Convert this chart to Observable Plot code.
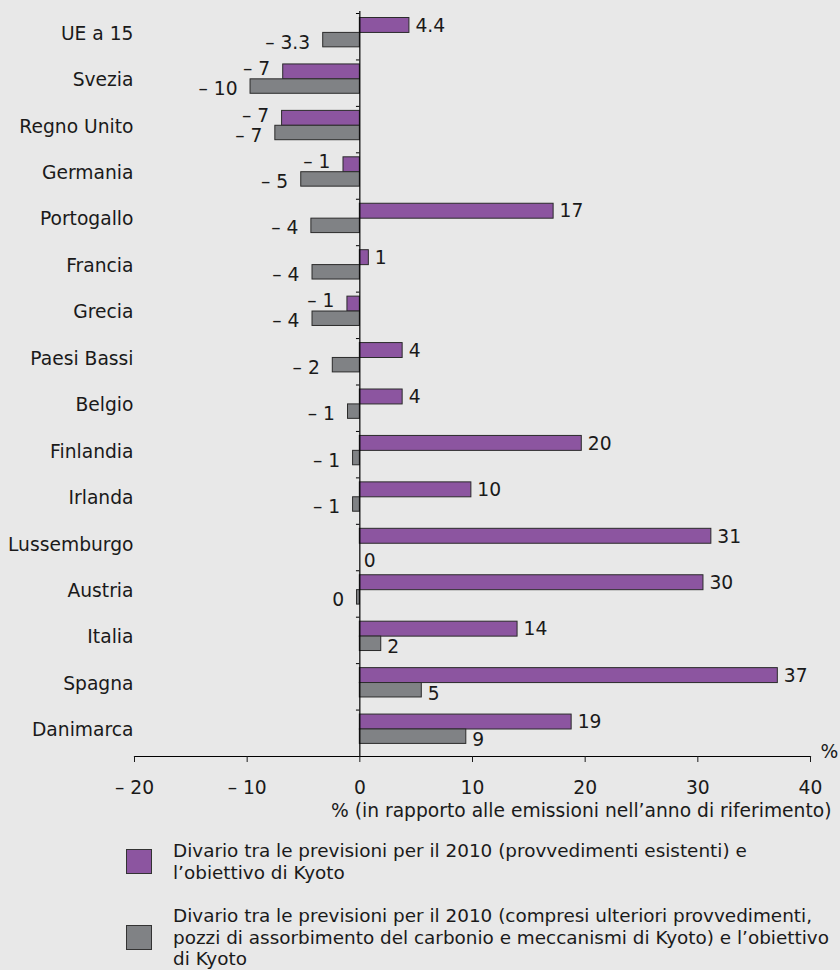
<!DOCTYPE html>
<html><head><meta charset="utf-8">
<script src="https://cdn.jsdelivr.net/npm/d3@7"></script>
<script src="https://cdn.jsdelivr.net/npm/@observablehq/plot@0.6"></script>
<style>
html,body{margin:0;padding:0;background:#e8e8e8;}
#wrap{width:840px;height:970px;background:#e8e8e8;font-family:"DejaVu Sans",Verdana,sans-serif;color:#1a1a1a;position:relative;overflow:hidden}
#chart{position:absolute;left:0;top:0}
.leg{position:absolute;left:126px;display:flex;align-items:center;font-size:18.4px;line-height:21.5px;white-space:nowrap}
.sw{width:24px;height:23px;border:1px solid #333;margin-right:21px;flex:none}
</style></head><body><div id="wrap"><div id="chart"></div>
<div class="leg" style="top:840px"><div class="sw" id="sw1"></div><div id="lt1"></div></div>
<div class="leg" style="top:905px"><div class="sw" id="sw2"></div><div id="lt2"></div></div>
</div>
<script>
const countries = ["UE a 15","Svezia","Regno Unito","Germania","Portogallo","Francia","Grecia","Paesi Bassi","Belgio","Finlandia","Irlanda","Lussemburgo","Austria","Italia","Spagna","Danimarca"];
const existingValues = [4.4,-6.8,-6.9,-1.45,17.2,0.8,-1.1,3.8,3.8,19.7,9.9,31.2,30.5,14.0,37.1,18.8];
const additionalValues = [-3.25,-9.7,-7.5,-5.2,-4.3,-4.2,-4.2,-2.4,-1.05,-0.6,-0.6,0,-0.25,1.9,5.5,9.45];
const existingLabels = ["4.4","– 7","– 7","– 1","17","1","– 1","4","4","20","10","31","30","14","37","19"];
const additionalLabels = ["– 3.3","– 10","– 7","– 5","– 4","– 4","– 4","– 2","– 1","– 1","– 1","0","0","2","5","9"];
const xTicks = [-20,-10,0,10,20,30,40];
const legendLabels = [
  ["Divario tra le previsioni per il 2010 (provvedimenti esistenti) e","l’obiettivo di Kyoto"],
  ["Divario tra le previsioni per il 2010 (compresi ulteriori provvedimenti,","pozzi di assorbimento del carbonio e meccanismi di Kyoto) e l’obiettivo","di Kyoto"]
];
const axisTitle = "% (in rapporto alle emissioni nell’anno di riferimento)";

const purple = "#8c55a0";
const grey = "#808285";
const edge = "#2b2b2b";

const rows = countries.map((c,i)=>({country:c, a:existingValues[i], b:additionalValues[i], al:existingLabels[i], bl:additionalLabels[i]}));

const mT = 13, H = 830, mB = 74;
const band = (H - mB - mT) / countries.length;
const fmt = d => d < 0 ? "– " + (-d) : String(d);
const FS = 18.7;

const plot = Plot.plot({
  width: 840, height: H, marginTop: mT, marginBottom: mB, marginLeft: 134, marginRight: 30,
  style: {background: "transparent", fontFamily: "'DejaVu Sans', Verdana, sans-serif", fontSize: FS + "px", color: "#1a1a1a", overflow: "visible"},
  x: {domain: [-20, 40]},
  y: {domain: countries, padding: 0, round: false},
  marks: [
    Plot.barX(rows, {x: "a", y: "country", fill: purple, stroke: edge, strokeWidth: 1, insetTop: 4.5, insetBottom: 27}),
    Plot.barX(rows, {x: "b", y: "country", fill: grey, stroke: edge, strokeWidth: 1, insetTop: 19.4, insetBottom: 12.6}),
    Plot.ruleX([0], {stroke: "#000", strokeWidth: 1.2, insetTop: -2}),
    Plot.ruleY(countries, {y: d => d, x1: -0.3, x2: 0, dy: -band/2, stroke: "#000"}),
    Plot.frame({anchor: "bottom", stroke: "#000", strokeWidth: 1.2}),
    Plot.axisX({ticks: xTicks, tickSize: 6, tickPadding: 18, tickFormat: fmt, label: null, fontSize: FS}),
    Plot.axisY({tickSize: 0, tickPadding: 1, dy: -3, label: null, fontSize: FS}),
    Plot.text(rows, {filter: d => d.a >= 0, x: "a", y: "country", text: "al", dx: 6, dy: -11, textAnchor: "start", fontSize: FS}),
    Plot.text(rows, {filter: d => d.a < 0, x: "a", y: "country", text: "al", dx: -13, dy: -14, textAnchor: "end", fontSize: FS}),
    Plot.text(rows, {filter: d => d.b > 0, x: "b", y: "country", text: "bl", dx: 6, dy: 7, textAnchor: "start", fontSize: FS}),
    Plot.text(rows, {filter: d => d.b === 0, x: "b", y: "country", text: "bl", dx: 4, dy: 13, textAnchor: "start", fontSize: FS}),
    Plot.text(rows, {filter: d => d.b < 0, x: "b", y: "country", text: "bl", dx: -13, dy: 6, textAnchor: "end", fontSize: FS}),
    Plot.text([axisTitle], {text: d => d, frameAnchor: "bottom-right", dx: 21, dy: 60, textAnchor: "end", fontSize: FS}),
    Plot.text(["%"], {text: d => d, frameAnchor: "bottom-right", dx: 10, dy: 1, textAnchor: "start", fontSize: FS})
  ]
});
document.getElementById("chart").appendChild(plot);
document.getElementById("sw1").style.background = purple;
document.getElementById("sw2").style.background = grey;
document.getElementById("lt1").innerHTML = legendLabels[0].join("<br>");
document.getElementById("lt2").innerHTML = legendLabels[1].join("<br>");
</script>
</body></html>
